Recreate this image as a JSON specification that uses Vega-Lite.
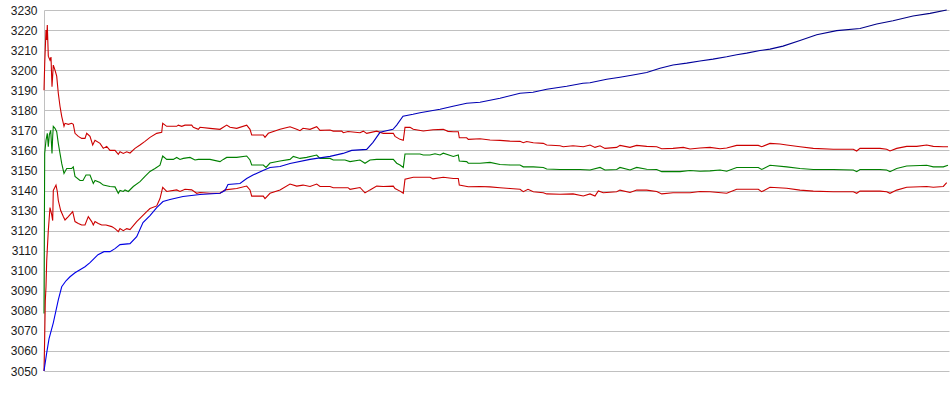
{
  "$schema": "https://vega.github.io/schema/vega-lite/v6.json",
  "width": 905,
  "height": 361,
  "autosize": "none",
  "padding": {"left": 44, "top": 10, "right": 1, "bottom": 24},
  "background": "#ffffff",
  "config": {"view": {"stroke": null}},
  "datasets": {
    "blue": [
      {"x":0,"v":3050},{"x":2.7,"v":3059},{"x":5,"v":3066},{"x":9.3,"v":3074},{"x":14.3,"v":3085.5},{"x":17.7,"v":3092},{"x":22,"v":3095},{"x":26,"v":3097},{"x":31,"v":3099},{"x":36,"v":3100.5},{"x":41,"v":3102},{"x":46,"v":3104},{"x":50,"v":3106},{"x":54,"v":3108},{"x":60,"v":3109.5},{"x":66,"v":3109.5},{"x":71,"v":3111},{"x":76,"v":3113},{"x":86,"v":3113.5},{"x":92.7,"v":3117},{"x":99,"v":3124},{"x":106,"v":3127.5},{"x":112.7,"v":3131.5},{"x":119,"v":3134.5},{"x":126,"v":3135.5},{"x":139,"v":3137},{"x":156,"v":3138},{"x":176,"v":3138.6},{"x":181,"v":3140},{"x":184,"v":3143},{"x":196,"v":3143.5},{"x":202.7,"v":3146},{"x":209,"v":3147.7},{"x":219,"v":3150},{"x":226,"v":3151.5},{"x":236,"v":3152},{"x":246,"v":3153.5},{"x":266,"v":3155.5},{"x":286,"v":3157},{"x":299,"v":3158.5},{"x":307.7,"v":3160},{"x":322.7,"v":3160.5},{"x":329,"v":3164},{"x":336,"v":3169},{"x":349,"v":3170.5},{"x":352.7,"v":3172.6},{"x":359,"v":3177},{"x":369,"v":3178},{"x":376,"v":3178.8},{"x":396,"v":3180.5},{"x":409,"v":3182},{"x":422.7,"v":3183.5},{"x":436,"v":3184},{"x":456,"v":3186},{"x":476,"v":3188.5},{"x":489,"v":3189},{"x":502.7,"v":3190.5},{"x":522.7,"v":3192},{"x":539,"v":3193.5},{"x":546,"v":3193.7},{"x":562.7,"v":3195.5},{"x":576,"v":3196.5},{"x":589,"v":3197.6},{"x":602.7,"v":3198.8},{"x":616,"v":3201},{"x":629,"v":3202.6},{"x":642.7,"v":3203.5},{"x":656,"v":3204.6},{"x":669,"v":3205.5},{"x":682.7,"v":3206.7},{"x":692.7,"v":3207.7},{"x":702.7,"v":3208.5},{"x":716,"v":3209.8},{"x":726,"v":3210.5},{"x":739,"v":3212},{"x":756,"v":3214.8},{"x":772.7,"v":3217.7},{"x":792.7,"v":3219.7},{"x":816,"v":3220.8},{"x":832.7,"v":3223},{"x":849,"v":3224.6},{"x":869,"v":3227},{"x":886,"v":3228.3},{"x":902.7,"v":3230}
    ],
    "upper": [
      {"x":0,"v":3190},{"x":0.7,"v":3203},{"x":2,"v":3220},{"x":2.7,"v":3215},{"x":3.3,"v":3222.5},{"x":4.3,"v":3207},{"x":6,"v":3205},{"x":7,"v":3206.5},{"x":8,"v":3191.7},{"x":9.3,"v":3202.5},{"x":11,"v":3200},{"x":12.7,"v":3197},{"x":14.3,"v":3188.5},{"x":16,"v":3182},{"x":17.7,"v":3177},{"x":20,"v":3172},{"x":21,"v":3173.5},{"x":24.3,"v":3173},{"x":27.7,"v":3173.5},{"x":29.3,"v":3173},{"x":31,"v":3168.5},{"x":34.3,"v":3167},{"x":37.7,"v":3166},{"x":41,"v":3166},{"x":42.7,"v":3168.5},{"x":46,"v":3167},{"x":48.7,"v":3162.7},{"x":51,"v":3165},{"x":56,"v":3163.5},{"x":59.3,"v":3161},{"x":62.7,"v":3162},{"x":66,"v":3160},{"x":71,"v":3160},{"x":74.3,"v":3158},{"x":76,"v":3159.3},{"x":79.3,"v":3158.5},{"x":82.7,"v":3159.3},{"x":86,"v":3158.7},{"x":91,"v":3161},{"x":96,"v":3162.7},{"x":101,"v":3164.5},{"x":106,"v":3166.5},{"x":112.7,"v":3168.5},{"x":117.7,"v":3169},{"x":118.7,"v":3173.5},{"x":122.7,"v":3172},{"x":132.7,"v":3172},{"x":134.3,"v":3172.6},{"x":137.7,"v":3172},{"x":141,"v":3172.6},{"x":147.7,"v":3172.6},{"x":149.3,"v":3171.5},{"x":154.3,"v":3170.5},{"x":156,"v":3171.5},{"x":166,"v":3171},{"x":176,"v":3170.5},{"x":182.7,"v":3172.6},{"x":186,"v":3171.5},{"x":192.7,"v":3171},{"x":202.7,"v":3172.6},{"x":206,"v":3170.5},{"x":207.7,"v":3167.7},{"x":219.3,"v":3167.7},{"x":221,"v":3166.5},{"x":224.3,"v":3168.5},{"x":236,"v":3170.5},{"x":246,"v":3171.8},{"x":252.7,"v":3170.5},{"x":256,"v":3169.8},{"x":259,"v":3171},{"x":266,"v":3170.5},{"x":272.7,"v":3171.8},{"x":276,"v":3170},{"x":286,"v":3170.2},{"x":289.3,"v":3169.6},{"x":297.7,"v":3169.6},{"x":299.3,"v":3168.8},{"x":304,"v":3169.4},{"x":316,"v":3168.8},{"x":319.3,"v":3169.6},{"x":322.7,"v":3168.5},{"x":332.7,"v":3169.6},{"x":339.3,"v":3168.5},{"x":349.3,"v":3168.5},{"x":351,"v":3167},{"x":356,"v":3165.5},{"x":359.3,"v":3165},{"x":361,"v":3171.5},{"x":366,"v":3171.5},{"x":369.3,"v":3170.5},{"x":379.3,"v":3169.7},{"x":389,"v":3170.3},{"x":399.3,"v":3170.5},{"x":404,"v":3169.5},{"x":409.3,"v":3169.3},{"x":414.3,"v":3169.3},{"x":415.3,"v":3166.3},{"x":422.7,"v":3166.3},{"x":424.3,"v":3165.5},{"x":436,"v":3165.8},{"x":446,"v":3165.2},{"x":456,"v":3165},{"x":466,"v":3164.6},{"x":476,"v":3164.5},{"x":479.3,"v":3163.8},{"x":482.7,"v":3164.4},{"x":489.3,"v":3163.8},{"x":499.3,"v":3163.5},{"x":502.7,"v":3162.7},{"x":516,"v":3162.3},{"x":519.3,"v":3161.8},{"x":529,"v":3162.3},{"x":539.3,"v":3161.8},{"x":546,"v":3162.7},{"x":551,"v":3161.5},{"x":556,"v":3162.3},{"x":561,"v":3161},{"x":572.7,"v":3161.5},{"x":576,"v":3162.5},{"x":586,"v":3161.5},{"x":592.7,"v":3162.5},{"x":602.7,"v":3162},{"x":612.7,"v":3161.8},{"x":617.7,"v":3160.8},{"x":629,"v":3161},{"x":639.3,"v":3161.5},{"x":646,"v":3160.7},{"x":656,"v":3161.2},{"x":666,"v":3161.5},{"x":676,"v":3160.8},{"x":682.7,"v":3161.2},{"x":692.7,"v":3162.5},{"x":714.3,"v":3162.5},{"x":717.7,"v":3161.8},{"x":726,"v":3163.5},{"x":736,"v":3163.2},{"x":742.7,"v":3162.7},{"x":756,"v":3161.8},{"x":769.3,"v":3161},{"x":789.3,"v":3160.6},{"x":809.3,"v":3160.6},{"x":812.7,"v":3159.7},{"x":816,"v":3161},{"x":836,"v":3161},{"x":842.7,"v":3160.6},{"x":846,"v":3159.7},{"x":852.7,"v":3161},{"x":862.7,"v":3162},{"x":872.7,"v":3162},{"x":882.7,"v":3162.7},{"x":889.3,"v":3162},{"x":899.3,"v":3161.8},{"x":904,"v":3161.8}
    ],
    "mid": [
      {"x":0,"v":3078.7},{"x":0.7,"v":3158.5},{"x":2,"v":3165},{"x":3.3,"v":3168.5},{"x":4.3,"v":3161.8},{"x":5.3,"v":3167.7},{"x":6.7,"v":3170},{"x":8,"v":3158.5},{"x":8.7,"v":3167},{"x":9.3,"v":3172},{"x":11,"v":3171},{"x":12.7,"v":3169.3},{"x":14.3,"v":3163.5},{"x":16,"v":3158.5},{"x":17.7,"v":3153.5},{"x":20,"v":3148.5},{"x":22.7,"v":3151},{"x":27.7,"v":3151},{"x":29.3,"v":3151.8},{"x":31,"v":3147},{"x":36,"v":3145},{"x":39,"v":3145},{"x":42,"v":3147.7},{"x":46,"v":3147.7},{"x":49.3,"v":3143.5},{"x":51,"v":3145},{"x":56,"v":3144},{"x":59.3,"v":3142.7},{"x":66,"v":3142},{"x":71,"v":3141.8},{"x":74.3,"v":3138.6},{"x":76,"v":3140},{"x":79.3,"v":3139.5},{"x":81,"v":3140.3},{"x":84.3,"v":3139.5},{"x":89.3,"v":3142},{"x":96,"v":3144.4},{"x":101,"v":3147},{"x":106,"v":3149.5},{"x":111,"v":3151},{"x":116,"v":3152.6},{"x":118.7,"v":3157.2},{"x":122.7,"v":3155.5},{"x":129.3,"v":3155.5},{"x":132.7,"v":3156.5},{"x":136,"v":3155.5},{"x":139.3,"v":3156},{"x":146,"v":3156.5},{"x":151,"v":3155.2},{"x":154.3,"v":3155.5},{"x":166,"v":3155.5},{"x":176,"v":3154.4},{"x":179.3,"v":3155.5},{"x":182.7,"v":3156.5},{"x":192.7,"v":3156.5},{"x":202.7,"v":3157.2},{"x":206,"v":3155.2},{"x":207.7,"v":3152.7},{"x":219.3,"v":3152.7},{"x":222,"v":3151.5},{"x":226,"v":3153.7},{"x":236,"v":3154.7},{"x":246,"v":3155.5},{"x":249.3,"v":3157},{"x":256,"v":3156},{"x":262.7,"v":3156.5},{"x":272.7,"v":3157.7},{"x":276,"v":3156},{"x":286,"v":3156},{"x":289.3,"v":3155.2},{"x":301,"v":3155.2},{"x":306,"v":3154.4},{"x":316,"v":3155.2},{"x":321,"v":3153.6},{"x":326,"v":3155.2},{"x":332.7,"v":3155.5},{"x":339.3,"v":3155.5},{"x":349.3,"v":3155.5},{"x":352.7,"v":3153.6},{"x":356,"v":3152.7},{"x":359.3,"v":3151.5},{"x":361,"v":3158.2},{"x":376,"v":3158.2},{"x":379.3,"v":3157.7},{"x":386,"v":3157.7},{"x":391,"v":3158.3},{"x":396,"v":3157.7},{"x":399.3,"v":3158.6},{"x":409.3,"v":3157},{"x":414.3,"v":3157.7},{"x":415.3,"v":3154.7},{"x":422.7,"v":3154.4},{"x":424.3,"v":3153.6},{"x":436,"v":3153.6},{"x":446,"v":3154},{"x":456,"v":3153},{"x":466,"v":3152.7},{"x":476,"v":3152.7},{"x":479.3,"v":3151.8},{"x":489.3,"v":3151.8},{"x":499.3,"v":3151.5},{"x":502.7,"v":3150.7},{"x":516,"v":3150.5},{"x":536,"v":3150.5},{"x":546,"v":3150.2},{"x":556,"v":3151.5},{"x":561,"v":3150.2},{"x":572.7,"v":3150.5},{"x":576,"v":3151.5},{"x":586,"v":3150.2},{"x":592.7,"v":3151.5},{"x":602.7,"v":3150.6},{"x":612.7,"v":3150.5},{"x":617.7,"v":3149.4},{"x":636,"v":3149.4},{"x":646,"v":3150},{"x":656,"v":3149.6},{"x":666,"v":3149.8},{"x":676,"v":3150.2},{"x":682.7,"v":3149.6},{"x":692.7,"v":3151.5},{"x":714.3,"v":3151.5},{"x":717.7,"v":3150.5},{"x":726,"v":3152.6},{"x":742.7,"v":3151.8},{"x":756,"v":3151},{"x":769.3,"v":3150.5},{"x":789.3,"v":3150.5},{"x":809.3,"v":3150.2},{"x":812.7,"v":3149.4},{"x":816,"v":3150.5},{"x":836,"v":3150.5},{"x":842.7,"v":3150.2},{"x":846,"v":3149.4},{"x":852.7,"v":3151},{"x":862.7,"v":3152.2},{"x":882.7,"v":3152.6},{"x":889.3,"v":3151.8},{"x":899.3,"v":3151.8},{"x":904,"v":3152.6}
    ],
    "lower": [
      {"x":0,"v":3050},{"x":0.7,"v":3067},{"x":1.3,"v":3085},{"x":2,"v":3092},{"x":2.7,"v":3105},{"x":4.3,"v":3120},{"x":6,"v":3131.5},{"x":7.7,"v":3128},{"x":8.7,"v":3125},{"x":9.3,"v":3140},{"x":12,"v":3142.7},{"x":13.3,"v":3139.5},{"x":14.3,"v":3135},{"x":16.7,"v":3130},{"x":19.3,"v":3127},{"x":21,"v":3125.3},{"x":24.3,"v":3127},{"x":28.7,"v":3129.5},{"x":31,"v":3124.5},{"x":34.3,"v":3123.6},{"x":37.7,"v":3122.8},{"x":41,"v":3122.8},{"x":44.3,"v":3127},{"x":47.7,"v":3124.5},{"x":49.3,"v":3122.8},{"x":51,"v":3124.5},{"x":54.3,"v":3123.6},{"x":57.7,"v":3122.8},{"x":62,"v":3122.8},{"x":67.7,"v":3122},{"x":71,"v":3121},{"x":74.3,"v":3119.5},{"x":76,"v":3121},{"x":79.3,"v":3120},{"x":82.7,"v":3121},{"x":86,"v":3120.5},{"x":92.7,"v":3124.5},{"x":97.7,"v":3127},{"x":102.7,"v":3129.5},{"x":106,"v":3131},{"x":112.7,"v":3132.3},{"x":116,"v":3136},{"x":118.7,"v":3141.6},{"x":122.7,"v":3139.5},{"x":132.7,"v":3140.3},{"x":136,"v":3139.5},{"x":141,"v":3140.6},{"x":147.7,"v":3140.3},{"x":152.7,"v":3138.6},{"x":156,"v":3139},{"x":166,"v":3138.6},{"x":176,"v":3138.6},{"x":181,"v":3140.3},{"x":192.7,"v":3141},{"x":202.7,"v":3142.2},{"x":206,"v":3140.3},{"x":207.7,"v":3137.2},{"x":219.3,"v":3137.2},{"x":221,"v":3136},{"x":226,"v":3138.6},{"x":236,"v":3140.3},{"x":246,"v":3143.2},{"x":252.7,"v":3142.2},{"x":259,"v":3142.7},{"x":266,"v":3142},{"x":272.7,"v":3143.2},{"x":276,"v":3142},{"x":286,"v":3142},{"x":289.3,"v":3141.4},{"x":304,"v":3141.4},{"x":306,"v":3140.6},{"x":316,"v":3141.5},{"x":321,"v":3138.8},{"x":326,"v":3140.3},{"x":332.7,"v":3142.2},{"x":339.3,"v":3142},{"x":349.3,"v":3142.2},{"x":351,"v":3141},{"x":356,"v":3139.7},{"x":359.3,"v":3138.6},{"x":361,"v":3145.6},{"x":369.3,"v":3146.6},{"x":386,"v":3146.6},{"x":389,"v":3145.8},{"x":399.3,"v":3146.6},{"x":409.3,"v":3146},{"x":414.3,"v":3146},{"x":415.3,"v":3142.7},{"x":424.3,"v":3141.9},{"x":436,"v":3142},{"x":446,"v":3141.8},{"x":456,"v":3141.4},{"x":466,"v":3141},{"x":476,"v":3140.6},{"x":479.3,"v":3139.4},{"x":484,"v":3140.6},{"x":489.3,"v":3139.4},{"x":499.3,"v":3138.9},{"x":502.7,"v":3138.3},{"x":516,"v":3138.1},{"x":529,"v":3138.3},{"x":539.3,"v":3137.3},{"x":546,"v":3138.3},{"x":551,"v":3137.2},{"x":554.3,"v":3139.8},{"x":559.3,"v":3138.9},{"x":572.7,"v":3139.4},{"x":576,"v":3140.2},{"x":586,"v":3139},{"x":592.7,"v":3140.2},{"x":602.7,"v":3140.2},{"x":612.7,"v":3139.5},{"x":617.7,"v":3138.3},{"x":629,"v":3138.9},{"x":646,"v":3138.9},{"x":656,"v":3139.5},{"x":666,"v":3139.4},{"x":682.7,"v":3138.6},{"x":692.7,"v":3140.6},{"x":714.3,"v":3140.6},{"x":717.7,"v":3139.4},{"x":726,"v":3141.6},{"x":742.7,"v":3141.1},{"x":756,"v":3140.2},{"x":769.3,"v":3139.7},{"x":789.3,"v":3139.4},{"x":809.3,"v":3139.4},{"x":812.7,"v":3138.6},{"x":816,"v":3139.7},{"x":836,"v":3139.7},{"x":842.7,"v":3139.4},{"x":846,"v":3138.6},{"x":852.7,"v":3140.2},{"x":862.7,"v":3141.6},{"x":882.7,"v":3142},{"x":889.3,"v":3141.6},{"x":899.3,"v":3142},{"x":902.7,"v":3143.9}
    ]
  },
  "encoding": {
    "x": {"field": "x", "type": "quantitative", "scale": {"domain": [0, 905], "nice": false, "zero": false}, "axis": null},
    "y": {
      "field": "v", "type": "quantitative",
      "scale": {"domain": [3050, 3230], "nice": false, "zero": false},
      "axis": {
        "title": null,
        "format": "d",
        "values": [3050,3060,3070,3080,3090,3100,3110,3120,3130,3140,3150,3160,3170,3180,3190,3200,3210,3220,3230],
        "ticks": false,
        "domain": true,
        "domainColor": "#c0c0c0",
        "domainWidth": 1,
        "grid": true,
        "gridColor": "#c0c0c0",
        "gridWidth": 1,
        "labelFont": "Liberation Sans",
        "labelFontSize": 12,
        "labelColor": "#1a1a1a",
        "labelPadding": 7
      }
    }
  },
  "layer": [
    {"data": {"name": "upper"}, "mark": {"type": "line", "color": "#cc0000", "strokeWidth": 1.1}},
    {"data": {"name": "mid"}, "mark": {"type": "line", "color": "#008000", "strokeWidth": 1.1}},
    {"data": {"name": "lower"}, "mark": {"type": "line", "color": "#cc0000", "strokeWidth": 1.1}},
    {"data": {"name": "blue"}, "mark": {"type": "line", "strokeWidth": 1.1, "color": {"gradient": "linear", "x1": 0, "y1": 0, "x2": 1, "y2": 0, "stops": [{"offset": 0, "color": "#0000ee"}, {"offset": 0.5, "color": "#0000b0"}, {"offset": 1, "color": "#000080"}]}}}
  ]
}
